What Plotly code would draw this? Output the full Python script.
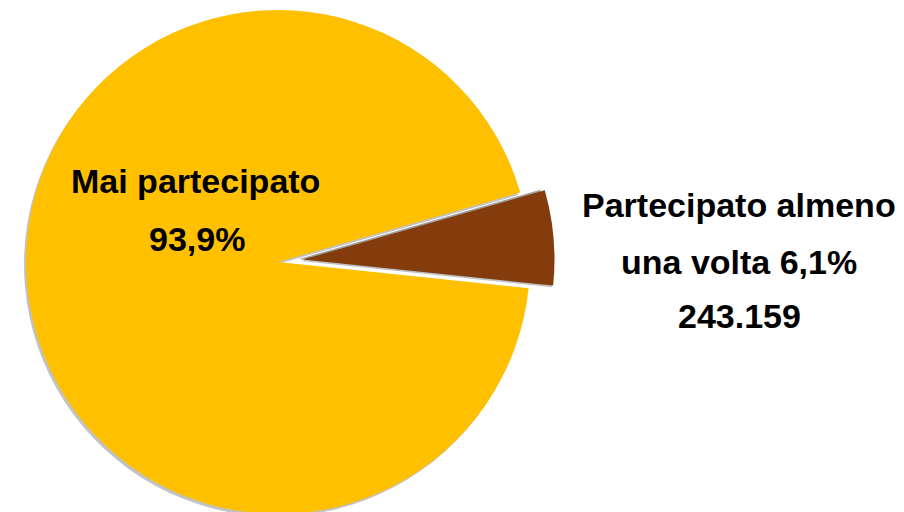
import plotly.graph_objects as go

# Data
categories = ["Partecipato almeno una volta", "Mai partecipato"]
shares = [6.1, 93.9]
participants = ["243.159"]
label_lines_small = ["Partecipato almeno", "una volta 6,1%", "243.159"]
label_lines_big = ["Mai partecipato", "93,9%"]

YELLOW = "#FFC000"
BROWN = "#843C0C"
CLEAR = "rgba(0,0,0,0)"

W, H = 904, 512
OFF = 8  # page body margin of the html page
R = 252

def dom(cx_scr, cy_scr, r_px=R):
    cx, cy = cx_scr - OFF, cy_scr - OFF
    half_w = r_px + 6
    x0 = (cx - half_w) / W
    x1 = (cx + half_w) / W
    y0 = 1 - (cy + r_px) / H
    y1 = 1 - (cy - r_px) / H
    return dict(x=[max(0, x0), min(1, x1)], y=[max(0, y0), min(1, y1)])

def pie(domain, colors):
    return go.Pie(labels=categories, values=shares, sort=False, direction="clockwise",
                  rotation=74, textinfo="none", hoverinfo="skip", showlegend=False,
                  domain=domain, marker=dict(colors=colors, line=dict(width=0)))

fig = go.Figure()
# soft shadow behind big slice
fig.add_trace(pie(dom(276, 264.5), [CLEAR, "rgba(120,120,120,0.45)"]))
# big slice
fig.add_trace(pie(dom(278, 262), [CLEAR, YELLOW]))
# shadow of the exploded slice
fig.add_trace(pie(dom(299, 258), ["rgba(150,150,150,0.9)", CLEAR]))
fig.add_trace(pie(dom(301, 261), ["rgba(150,150,150,0.6)", CLEAR]))
# exploded slice
fig.add_trace(pie(dom(303, 259), [BROWN, CLEAR]))

FONT = dict(family="Liberation Sans, Arial, sans-serif", size=34, color="#000000")

big_pos = [(195, 181), (197, 238.5)]
for txt, (x, y) in zip(label_lines_big, big_pos):
    fig.add_annotation(text="<b>%s</b>" % txt, x=(x - OFF) / W, y=1 - (y - OFF) / H,
                       xref="paper", yref="paper", xanchor="center", yanchor="middle",
                       showarrow=False, font=FONT)

small_pos = [(739, 205), (739, 262), (739, 315.5)]
for txt, (x, y) in zip(label_lines_small, small_pos):
    fig.add_annotation(text="<b>%s</b>" % txt, x=(x - OFF) / W, y=1 - (y - OFF) / H,
                       xref="paper", yref="paper", xanchor="center", yanchor="middle",
                       showarrow=False, font=FONT)

fig.update_layout(width=W, height=H, margin=dict(l=0, r=0, t=0, b=0),
                  paper_bgcolor="white", plot_bgcolor="white")

fig.write_html("out.html")
